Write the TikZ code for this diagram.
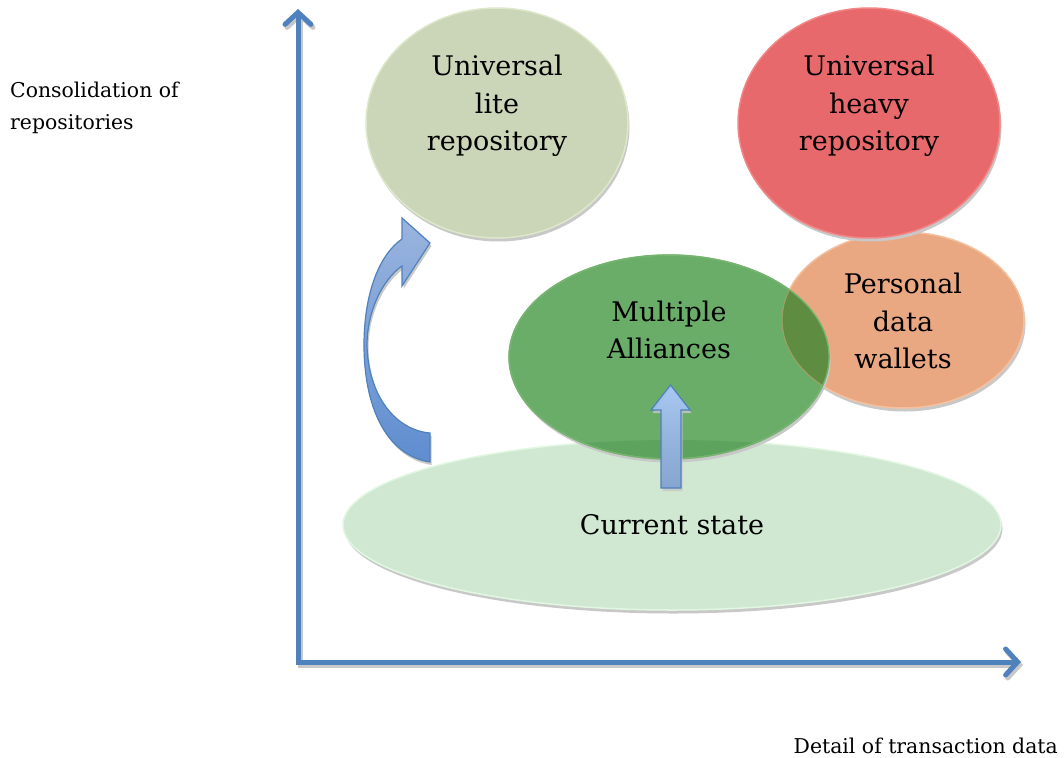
\documentclass[tikz,border=0pt]{standalone}
\usepackage{fontspec}
\setmainfont{DejaVu Serif}
\usetikzlibrary{shapes.geometric,arrows.meta,shadows}
\definecolor{axisblue}{HTML}{4F81BD}
\definecolor{liteF}{HTML}{CBD5B8}
\definecolor{liteR}{HTML}{DDE8CA}
\definecolor{heavyF}{HTML}{E8696B}
\definecolor{heavyR}{HTML}{F28686}
\definecolor{orangeF}{HTML}{E9A882}
\definecolor{orangeR}{HTML}{F5C09E}
\definecolor{greenF}{HTML}{69AD69}
\definecolor{greenR}{HTML}{80C080}
\definecolor{curF}{HTML}{D0E8D1}
\definecolor{curR}{HTML}{E2F7E2}
\definecolor{ovOG}{HTML}{5E8D42}
\definecolor{ovGC}{HTML}{5DA35D}
\definecolor{shadowgray}{HTML}{C8C8C8}
\definecolor{cTop}{HTML}{9AB4DE}
\definecolor{cBot}{HTML}{5F8DD0}
\definecolor{uTop}{HTML}{A8C8F8}
\definecolor{uBot}{HTML}{7FA2CE}
\begin{document}
\begin{tikzpicture}[x=1pt,y=-1pt,
  blob/.style={ellipse, inner sep=0pt, line width=1.5pt,
    drop shadow={shadow xshift=1.5pt, shadow yshift=-3.5pt, fill=shadowgray, opacity=1}},
  bigtxt/.style={font=\fontsize{27}{37.5}\selectfont, align=center, inner sep=0pt},
  axtxt/.style={font=\fontsize{20.4}{31}\selectfont, align=left, inner sep=0pt},
  axisline/.style={line width=5pt, draw=axisblue, line cap=rect,
    -{Straight Barb[length=12pt,width=26pt,line cap=round]}},
  axisshadow/.style={axisline, draw=shadowgray, transform canvas={shift={(2pt,-3pt)}}},
  arrowfill/.style={draw=axisblue, line width=1.2pt, line join=miter}
]
\useasboundingbox (0,0) rectangle (1064,757);

% axes
\coordinate (O) at (298,662);
\coordinate (Ytip) at (298,9);
\coordinate (Xtip) at (1021,662);
\draw[axisshadow] (O) -- (Ytip);
\draw[axisshadow] (O) -- (Xtip);
\draw[axisline] (O) -- (Ytip);
\draw[axisline] (O) -- (Xtip);

% axis labels
\node[axtxt, anchor=base west] (ylab) at (10,98) {Consolidation of};
\node[axtxt, anchor=base west] (ylab2) at (10,129) {repositories};
\node[axtxt, anchor=base east] (xlab) at (1058,753) {Detail of transaction data};

% current state
\node[blob, fill=curF, draw=curR, minimum width=658pt, minimum height=170pt] (cur) at (672,525) {};

% personal data wallets
\node[blob, fill=orangeF, draw=orangeR, minimum width=242pt, minimum height=176pt] (pdw) at (903,320) {};

% multiple alliances
\node[blob, fill=greenF, draw=greenR, minimum width=320pt, minimum height=204pt] (mult) at (669,357) {};

% overlaps
\begin{scope}
  \clip (cur.center) ellipse [x radius=329pt, y radius=85pt];
  \fill[ovGC] (mult.center) ellipse [x radius=159pt, y radius=101pt];
\end{scope}
\begin{scope}
  \clip (pdw.center) ellipse [x radius=121pt, y radius=88pt];
  \fill[ovOG] (mult.center) ellipse [x radius=160pt, y radius=102pt];
\end{scope}
\draw[greenR!70!ovOG, line width=1.2pt] (mult.center) ellipse [x radius=160pt, y radius=102pt];
\begin{scope}
  \clip (mult.center) ellipse [x radius=160pt, y radius=102pt];
  \draw[orangeR!40!ovOG, line width=1.2pt] (pdw.center) ellipse [x radius=121pt, y radius=88pt];
\end{scope}

% universal heavy and lite
\node[blob, fill=heavyF, draw=heavyR, minimum width=262pt, minimum height=230pt] (heavy) at (869,123) {};
\node[blob, fill=liteF, draw=liteR, minimum width=262pt, minimum height=230pt] (lite) at (497,123) {};

% texts
\node[bigtxt] (liteT) at (497,106) {Universal\\lite\\repository};
\node[bigtxt] (heavyT) at (869,106) {Universal\\heavy\\repository};
\node[bigtxt] (pdwT) at (903,321) {Personal\\data\\wallets};
\node[bigtxt] (multT) at (669,330) {Multiple\\Alliances};
\node[bigtxt] (curT) at (672,525) {Current state};

% curved arrow (shadow then shape)
\coordinate (cb1) at (430,462);
\coordinate (cb2) at (430,433);
\coordinate (ctip) at (430,243);
\begin{scope}[transform canvas={shift={(1.5pt,-3pt)}}]
\fill[shadowgray] (cb1) .. controls (385,455) and (364,405) .. (364,345)
   .. controls (364,292) and (380,254) .. (402,239)
   -- (402,218) -- (ctip) -- (402,286) -- (402,266)
   .. controls (382,280) and (367,312) .. (367,345)
   .. controls (368,395) and (395,430) .. (cb2) -- cycle;
\end{scope}
\shade[arrowfill, top color=cTop, bottom color=cBot]
  (cb1) .. controls (385,455) and (364,405) .. (364,345)
   .. controls (364,292) and (380,254) .. (402,239)
   -- (402,218) -- (ctip) -- (402,286) -- (402,266)
   .. controls (382,280) and (367,312) .. (367,345)
   .. controls (368,395) and (395,430) .. (cb2) -- cycle;

% straight up arrow
\coordinate (utip) at (670.5,385);
\coordinate (ubase) at (671,488);
\begin{scope}[transform canvas={shift={(1.5pt,-3pt)}}]
\fill[shadowgray, opacity=0.8] (utip) -- (690,410) -- (681,410) -- (681,488) -- (661,488) -- (661,410) -- (651,410) -- cycle;
\end{scope}
\shade[arrowfill, top color=uTop, bottom color=uBot, fill opacity=0.92]
  (utip) -- (690,410) -- (681,410) -- (681,488) -- (661,488) -- (661,410) -- (651,410) -- cycle;
\end{tikzpicture}
\end{document}
